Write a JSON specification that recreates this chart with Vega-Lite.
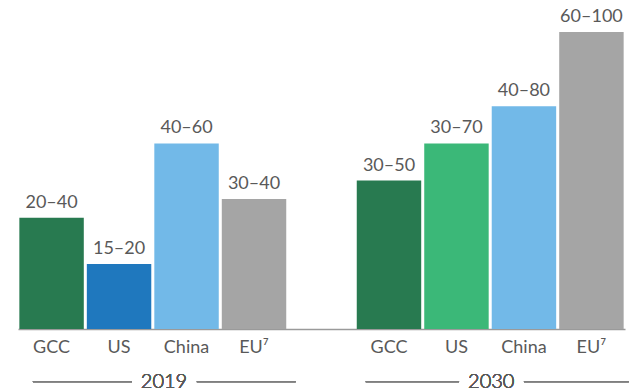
{
  "$schema": "https://vega.github.io/schema/vega-lite/v6.json",
  "width": 607,
  "height": 297,
  "autosize": {"type": "none"},
  "padding": {"left": 18, "top": 32, "right": 12, "bottom": 63},
  "background": "#ffffff",
  "config": {"view": {"stroke": null}, "font": "Lato"},
  "data": {
    "values": [
      {"key": "GCC 2019", "mid": 30, "label": "20–40"},
      {"key": "US 2019", "mid": 17.5, "label": "15–20"},
      {"key": "China 2019", "mid": 50, "label": "40–60"},
      {"key": "EU⁷ 2019", "mid": 35, "label": "30–40"},
      {"key": "GCC 2030", "mid": 40, "label": "30–50"},
      {"key": "US 2030", "mid": 50, "label": "30–70"},
      {"key": "China 2030", "mid": 60, "label": "40–80"},
      {"key": "EU⁷ 2030", "mid": 80, "label": "60–100"}
    ]
  },
  "encoding": {
    "x": {
      "field": "key",
      "type": "nominal",
      "sort": null,
      "scale": {
        "domain": ["GCC 2019", "US 2019", "China 2019", "EU⁷ 2019", "gap", "GCC 2030", "US 2030", "China 2030", "EU⁷ 2030"],
        "paddingInner": 0.045,
        "paddingOuter": 0.02
      },
      "axis": {
        "title": null,
        "labelAngle": 0,
        "ticks": false,
        "domainColor": "#9a9a9a",
        "domainWidth": 1.5,
        "labelFont": "Lato",
        "labelFontSize": 18,
        "labelColor": "#595959",
        "labelPadding": 9,
        "labelExpr": "datum.value == 'gap' ? '' : split(datum.value, ' ')[0]"
      }
    },
    "y": {
      "field": "mid",
      "type": "quantitative",
      "scale": {"domain": [0, 80], "nice": false, "zero": true},
      "axis": null
    }
  },
  "layer": [
    {
      "mark": {"type": "bar"},
      "encoding": {
        "color": {
          "field": "key",
          "type": "nominal",
          "scale": {
            "domain": ["GCC 2019", "US 2019", "China 2019", "EU⁷ 2019", "GCC 2030", "US 2030", "China 2030", "EU⁷ 2030"],
            "range": ["#287a50", "#1f78be", "#72b9e8", "#a5a5a5", "#287a50", "#3bb878", "#72b9e8", "#a5a5a5"]
          },
          "legend": null
        }
      }
    },
    {
      "mark": {"type": "text", "baseline": "alphabetic", "dy": -10, "fontSize": 18, "color": "#595959", "font": "Lato"},
      "encoding": {"text": {"field": "label"}}
    },
    {
      "mark": {"type": "text", "baseline": "alphabetic", "fontSize": 20, "fontWeight": 300, "color": "#595959", "font": "Lato"},
      "encoding": {
        "x": {"datum": "China 2019", "bandPosition": 0.15},
        "y": {"datum": -15.9, "type": "quantitative"},
        "text": {"value": "2019"}
      }
    },
    {
      "mark": {"type": "text", "baseline": "alphabetic", "fontSize": 20, "fontWeight": 300, "color": "#595959", "font": "Lato"},
      "encoding": {
        "x": {"datum": "US 2030", "bandPosition": 1.04},
        "y": {"datum": -15.9, "type": "quantitative"},
        "text": {"value": "2030"}
      }
    },
    {
      "mark": {"type": "rule", "color": "#7f7f7f", "strokeWidth": 1.3},
      "encoding": {
        "x": {"datum": "GCC 2019", "bandPosition": 0.21},
        "x2": {"datum": "US 2019", "bandPosition": 0.7},
        "y": {"datum": -14.2, "type": "quantitative"}
      }
    },
    {
      "mark": {"type": "rule", "color": "#7f7f7f", "strokeWidth": 1.3},
      "encoding": {
        "x": {"datum": "China 2019", "bandPosition": 0.66},
        "x2": {"datum": "gap", "bandPosition": 0.1},
        "y": {"datum": -14.2, "type": "quantitative"}
      }
    },
    {
      "mark": {"type": "rule", "color": "#7f7f7f", "strokeWidth": 1.3},
      "encoding": {
        "x": {"datum": "GCC 2030", "bandPosition": 0.14},
        "x2": {"datum": "US 2030", "bandPosition": 0.54},
        "y": {"datum": -14.2, "type": "quantitative"}
      }
    },
    {
      "mark": {"type": "rule", "color": "#7f7f7f", "strokeWidth": 1.3},
      "encoding": {
        "x": {"datum": "China 2030", "bandPosition": 0.5},
        "x2": {"datum": "EU⁷ 2030", "bandPosition": 1.08},
        "y": {"datum": -14.2, "type": "quantitative"}
      }
    }
  ]
}
